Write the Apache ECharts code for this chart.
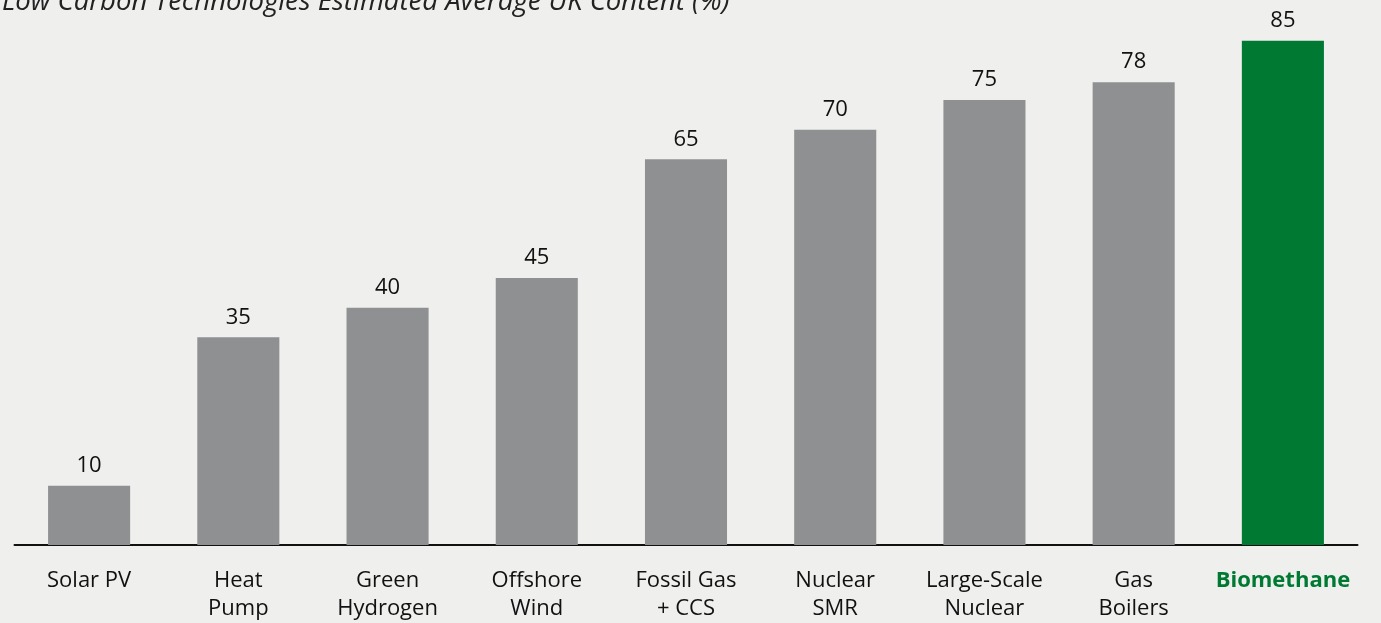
<!DOCTYPE html>
<html><head><meta charset="utf-8">
<script src="https://cdn.jsdelivr.net/npm/echarts@6/dist/echarts.min.js"></script>
<style>html,body{margin:0;padding:0;background:#efefee;}#c{width:1381px;height:623px;}</style>
</head><body><div id="c"></div>
<script>
const titleText = 'Low Carbon Technologies Estimated Average UK Content (%)';
const categories = ['Solar PV','Heat\nPump','Green\nHydrogen','Offshore\nWind','Fossil Gas\n+ CCS','Nuclear\nSMR','Large-Scale\nNuclear','Gas\nBoilers','Biomethane'];
const values = [10,35,40,45,65,70,75,78,85];
const highlight = 'Biomethane';
const gray = '#8f9092', green = '#007a33';
const chart = echarts.init(document.getElementById('c'));
chart.setOption({
  backgroundColor: '#efefee',
  animation: false,
  title: {text: titleText, left: -3, top: -16, textStyle: {fontFamily: 'Open Sans', fontStyle: 'italic', fontWeight: 'normal', fontSize: 27.5, color: '#222'}},
  grid: {left: 14.5, right: 23.5, top: 11, bottom: 73},
  xAxis: {type: 'category', data: categories,
    axisLine: {lineStyle: {color: '#111', width: 2}}, axisTick: {show: false},
    axisLabel: {interval: 0, margin: 22, lineHeight: 28, fontSize: 22, color: '#111', fontFamily: 'Open Sans',
      formatter: v => v === highlight ? '{h|' + v + '}' : v,
      rich: {h: {color: green, fontWeight: 'bold', fontSize: 22, fontFamily: 'Open Sans'}}}},
  yAxis: {type: 'value', min: 0, max: 90, show: false, splitLine: {show: false}},
  series: [{type: 'bar', barWidth: '55%',
    data: values.map((v, i) => ({value: v, itemStyle: {color: categories[i] === highlight ? green : gray}})),
    label: {show: true, position: 'top', distance: 9, fontSize: 22, color: '#111', fontFamily: 'Open Sans'}}]
});
</script></body></html>
